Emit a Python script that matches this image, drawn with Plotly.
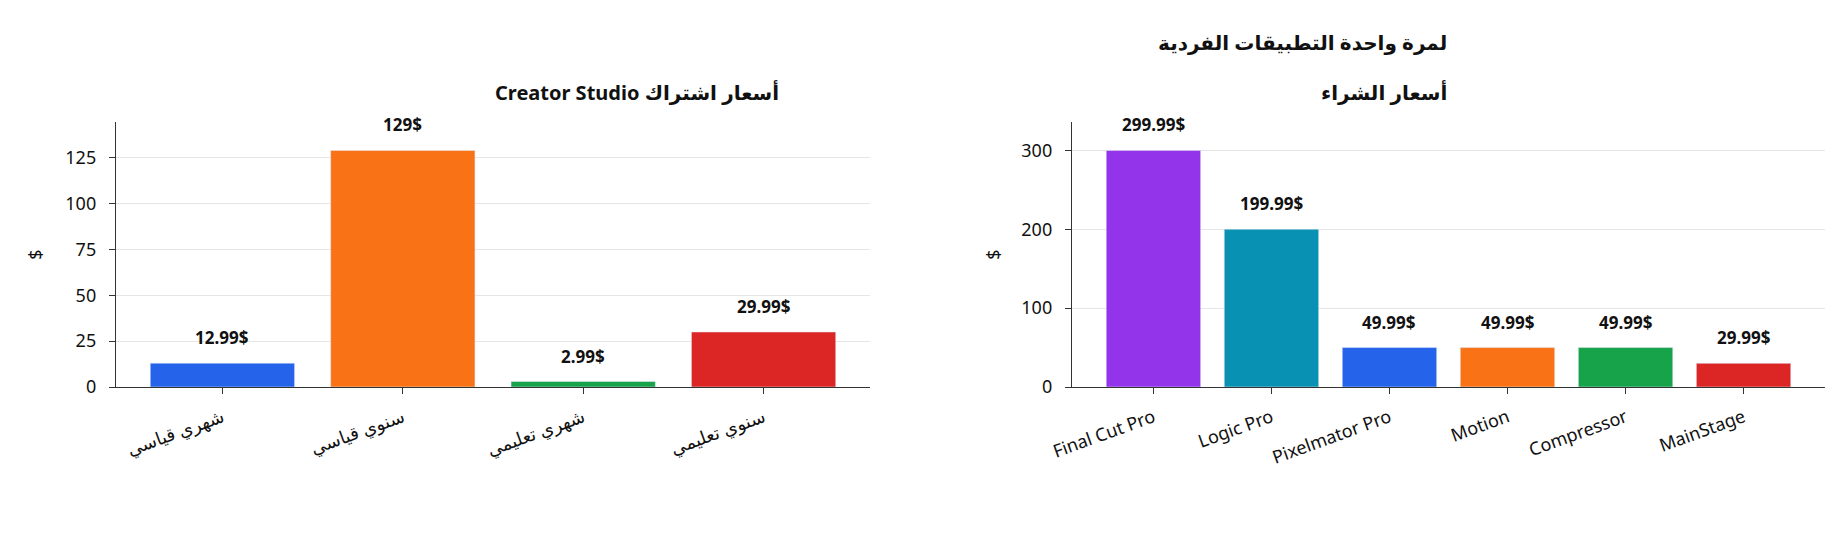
import plotly.graph_objects as go

# ---- data ----
sub_categories = ["شهري قياسي", "سنوي قياسي", "شهري تعليمي", "سنوي تعليمي"]
sub_prices = [12.99, 129, 2.99, 29.99]
sub_colors = ["#2563eb", "#f97316", "#16a34a", "#dc2626"]

app_names = ["Final Cut Pro", "Logic Pro", "Pixelmator Pro", "Motion", "Compressor", "MainStage"]
app_prices = [299.99, 199.99, 49.99, 49.99, 49.99, 29.99]
app_colors = ["#9333ea", "#0891b2", "#2563eb", "#f97316", "#16a34a", "#dc2626"]

currency = "$"
left_title = "Creator Studio أسعار اشتراك"
right_title = "أسعار الشراء"
suptitle = "لمرة واحدة التطبيقات الفردية"

# ---- layout geometry ----
W, H = 1848, 560
ML, MR, MT, MB = 116, 23, 122, 173
PW = W - ML - MR
PH = H - MT - MB
left_dom = [0, (870 - ML) / PW]
right_dom = [(1072 - ML) / PW, 1]

FONT = "Noto Sans, DejaVu Sans, sans-serif"
AX = "#333333"

fig = go.Figure()
fig.add_trace(go.Bar(x=sub_categories, y=sub_prices, marker_color=sub_colors,
                     width=0.8, xaxis="x", yaxis="y", showlegend=False,
                     hoverinfo="x+y"))
fig.add_trace(go.Bar(x=app_names, y=app_prices, marker_color=app_colors,
                     width=0.8, xaxis="x2", yaxis="y2", showlegend=False,
                     hoverinfo="x+y"))

def fmt(v):
    return f"{v:g}{currency}"

annotations = []
for cats, vals, xr, yr in [(sub_categories, sub_prices, "x", "y"),
                           (app_names, app_prices, "x2", "y2")]:
    for c, v in zip(cats, vals):
        annotations.append(dict(x=c, y=v, xref=xr, yref=yr, text=fmt(v),
                                showarrow=False, yanchor="bottom", yshift=12,
                                font=dict(family=FONT, size=17, color="#111111",
                                          weight="bold")))

def py(pix):
    return (MT + PH - pix) / PH

annotations += [
    dict(x=sum(left_dom) / 2, y=py(92), xref="paper", yref="paper",
         text=left_title, showarrow=False, yanchor="middle",
         font=dict(family=FONT, size=20, color="#111111", weight="bold")),
    dict(x=sum(right_dom) / 2, y=py(92), xref="paper", yref="paper",
         text=right_title, showarrow=False, yanchor="middle",
         font=dict(family=FONT, size=20, color="#111111", weight="bold")),
    dict(x=sum(right_dom) / 2, y=py(42), xref="paper", yref="paper",
         text=suptitle, showarrow=False, yanchor="middle",
         font=dict(family=FONT, size=20, color="#111111", weight="bold")),
]

common_x = dict(showline=True, linecolor=AX, linewidth=1.4, ticks="outside",
                ticklen=6, tickwidth=1.3, tickcolor=AX, showgrid=False,
                zeroline=False, tickangle=-20, ticklabelstandoff=6,
                tickfont=dict(family=FONT, size=18, color="#111111"))

def y_axis(standoff):
    return dict(showline=True, linecolor=AX, linewidth=1.4, ticks="outside",
                ticklen=6, tickwidth=1.3, tickcolor=AX, showgrid=True,
                gridcolor="#e6e6e6", gridwidth=1.2, zeroline=False,
                ticklabelstandoff=9,
                tickfont=dict(family=FONT, size=18, color="#111111"),
                title=dict(text=currency, standoff=standoff,
                           font=dict(family=FONT, size=18, color="#111111")))

fig.update_layout(
    width=W, height=H,
    margin=dict(l=ML, r=MR, t=MT, b=MB, autoexpand=False),
    paper_bgcolor="white", plot_bgcolor="white",
    font=dict(family=FONT),
    bargap=0.2,
    xaxis=dict(domain=left_dom, anchor="y",
               range=[-0.59, len(sub_categories) - 1 + 0.59], **common_x),
    yaxis=dict(domain=[0, 1], anchor="x",
               range=[0, max(sub_prices) * 1.12], dtick=25, **y_axis(18)),
    xaxis2=dict(domain=right_dom, anchor="y2",
                range=[-0.69, len(app_names) - 1 + 0.69], **common_x),
    yaxis2=dict(domain=[0, 1], anchor="x2",
                range=[0, max(app_prices) * 1.12], dtick=100, **y_axis(16)),
    annotations=annotations,
)

fig.write_html("out.html")
